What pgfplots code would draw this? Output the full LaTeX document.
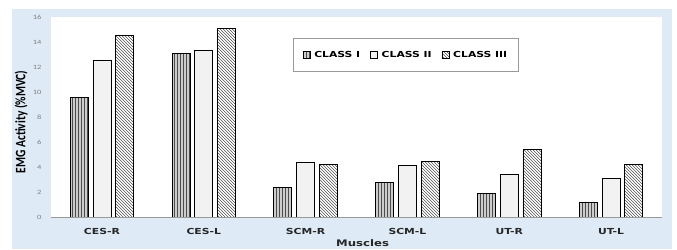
\documentclass[border=0pt]{standalone}
\usepackage{fontspec}
\setmainfont{Carlito}
\newfontfamily\lab{DejaVu Sans}[FakeStretch=1.3]
\newfontfamily\ylab{Carlito}
\newfontfamily\tickf{Carlito}[FakeStretch=1.3]
\usepackage{pgfplots}
\pgfplotsset{compat=1.18}
\usetikzlibrary{patterns}
\definecolor{bgblue}{RGB}{222,234,246}
\definecolor{c2fill}{RGB}{242,242,242}
\begin{document}
\begin{tikzpicture}[x=1pt,y=1pt]
\path (0,0) rectangle (677,249);
\fill[bgblue] (12,0) rectangle (672,240);
\begin{axis}[
  at={(51pt,32pt)}, anchor=south west,
  scale only axis, width=611pt, height=200pt,
  axis background/.style={fill=white},
  ybar=4.7pt, bar width=18pt,
  xmin=-0.5, xmax=5.5, ymin=0, ymax=16,
  xtick={0,1,2,3,4,5},
  xticklabels={CES-R,CES-L,SCM-R,SCM-L,UT-R,UT-L},
  ytick={0,2,...,16},
  major tick length=0pt,
  axis x line*=bottom, axis y line*=left,
  x axis line style={draw=gray!80, line width=0.8pt},
  y axis line style={draw=none},
  xticklabel style={font=\lab\bfseries\fontsize{8.3}{10}\selectfont, text=black!85, yshift=-8pt},
  yticklabel style={font=\tickf\fontsize{6.5}{7}\selectfont, text=gray, xshift=-6pt},
  /pgf/number format/assume math mode=true,
  xlabel={Muscles},
  xlabel style={font=\lab\bfseries\fontsize{9}{10}\selectfont, text=black!85, at={(axis description cs:0.51,-0.13)}, anchor=center},
  ylabel={\scalebox{1}[1.25]{EMG Activity (\%MVC)}},
  ylabel style={font=\ylab\bfseries\fontsize{11.5}{13}\selectfont, at={(axis description cs:-0.049,0.475)}, anchor=center},
  legend columns=3,
  legend style={at={(axis description cs:0.581,0.81)}, anchor=center,
    draw=gray!80, line width=0.8pt, inner xsep=9pt, inner ysep=11pt,
    font=\lab\bfseries\fontsize{8.3}{10}\selectfont,
    /tikz/every odd column/.append style={column sep=2pt},
    /tikz/every even column/.append style={column sep=8pt}},
  legend image code/.code={\draw[#1, line width=0.5pt] (0pt,-3.5pt) rectangle (7pt,3.5pt);},
]
\addplot[draw=black, line width=0.8pt, fill=gray!40, postaction={pattern=vertical lines, pattern color=gray!60!black}]
  coordinates {(0,9.55) (1,13.1) (2,2.39) (3,2.76) (4,1.88) (5,1.16)};
\addplot[draw=black, line width=0.8pt, fill=c2fill]
  coordinates {(0,12.56) (1,13.36) (2,4.39) (3,4.12) (4,3.37) (5,3.11)};
\addplot[draw=black, line width=0.8pt, fill=white, postaction={pattern=north west lines, pattern color=black!85}]
  coordinates {(0,14.5) (1,15.1) (2,4.23) (3,4.44) (4,5.39) (5,4.23)};
\legend{CLASS I, CLASS II, CLASS III}
\end{axis}
\end{tikzpicture}
\end{document}
